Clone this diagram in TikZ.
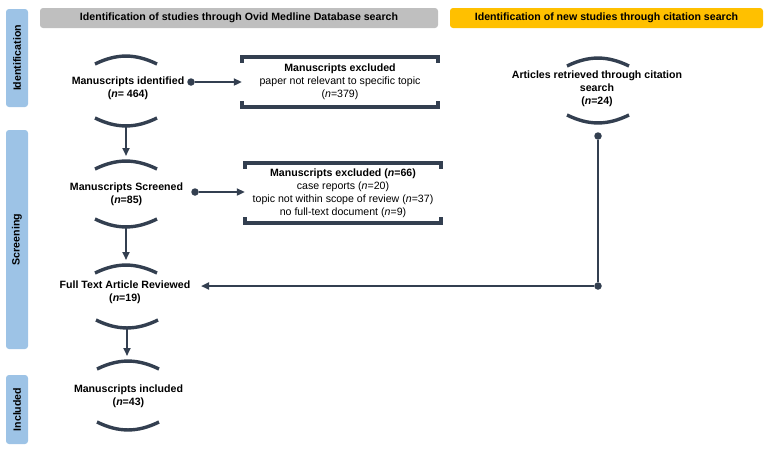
\documentclass[tikz,border=0pt]{standalone}
\usepackage{fontspec}
\setmainfont{Liberation Sans}
\usetikzlibrary{arrows.meta}
\definecolor{navy}{HTML}{333F50}
\definecolor{sidebar}{HTML}{9DC3E6}
\definecolor{hdrgray}{HTML}{BFBFBF}
\definecolor{hdryellow}{HTML}{FFC000}
% arcs above and below a stage
\newcommand{\toparc}[1]{\draw[bow] ([shift={(-31pt,-7pt)}]#1) to[bend left=26] ([shift={(31pt,-7pt)}]#1);}
\newcommand{\botarc}[1]{\draw[bow] ([shift={(-31pt,7pt)}]#1) to[bend right=26] ([shift={(31pt,7pt)}]#1);}
\begin{document}
\begin{tikzpicture}[x=1pt,y=-1pt,
  font=\fontsize{10.6}{13}\selectfont,
  bow/.style={navy, line width=3.4pt},
  bracket/.style={navy, line width=3.8pt},
  arr/.style={navy, line width=2pt, -{Triangle[length=8pt,width=7pt]}},
  link/.style={navy, line width=2pt},
  dot/.style={circle, fill=navy, inner sep=0pt, minimum size=7.5pt},
  stage/.style={align=center, font=\fontsize{10.6}{13}\selectfont\bfseries},
  exbox/.style={align=center, minimum width=196pt, minimum height=50pt, inner sep=0pt},
  header/.style={rounded corners=3pt, minimum height=20pt, inner sep=0pt, font=\fontsize{10.6}{13}\selectfont\bfseries},
  phase/.style={fill=sidebar, rounded corners=3pt, rotate=90, minimum height=22pt, inner sep=0pt, font=\fontsize{10.6}{13}\selectfont\bfseries}]
\useasboundingbox (0,0) rectangle (767,451);
% phases and headers
\node[phase, minimum width=98pt] (ph-id) at (17,58) {Identification};
\node[phase, minimum width=219pt] (ph-scr) at (17,239.5) {Screening};
\node[phase, minimum width=69pt] (ph-incl) at (17,409.5) {Included};
\node[header, fill=hdrgray, minimum width=398pt] (hd-db) at (239,18) {Identification of studies through Ovid Medline Database search};
\node[header, fill=hdryellow, minimum width=313pt] (hd-cit) at (606.5,18) {Identification of new studies through citation search};
% stages
\node[stage] (id) at (128,88.5) {Manuscripts identified\\(\textit{n}= 464)};
\coordinate (id-t) at (126,57);
\coordinate (id-b) at (126,125);
\node[stage] (scr) at (126.5,194) {Manuscripts Screened\\(\textit{n}=85)};
\coordinate (scr-t) at (126,162);
\coordinate (scr-b) at (126,226);
\node[stage] (full) at (125,292.5) {Full Text Article Reviewed\\(\textit{n}=19)};
\coordinate (full-t) at (126,266);
\coordinate (full-b) at (127,327);
\node[stage] (incl) at (128.5,396) {Manuscripts included\\(\textit{n}=43)};
\coordinate (incl-t) at (128,362);
\coordinate (incl-b) at (128,429);
\node[stage] (art) at (597,89) {Articles retrieved through citation\\search\\(\textit{n}=24)};
\coordinate (art-t) at (598,59);
\coordinate (art-b) at (598,122);
\foreach \s in {id,scr,full,incl,art} {\toparc{\s-t} \botarc{\s-b}}
% excluded
\node[exbox] (ex1) at (340,82) {\textbf{Manuscripts excluded}\\paper not relevant to specific topic\\(\textit{n}=379)};
\node[exbox, minimum height=60pt] (ex2) at (343,193) {\textbf{Manuscripts excluded (\textit{n}=66)}\\case reports (\textit{n}=20)\\topic not within scope of review (\textit{n}=37)\\no full-text document (\textit{n}=9)};
\foreach \b in {ex1,ex2} {
  \draw[bracket] ([yshift=-6pt]\b.north west) -- (\b.north west) -- (\b.north east) -- ([yshift=-6pt]\b.north east);
  \draw[bracket] ([yshift=6pt]\b.south west) -- (\b.south west) -- (\b.south east) -- ([yshift=6pt]\b.south east);
}
% connectors
\node[dot] (id-dot) at (191,82){};
\node[dot] (scr-dot) at (195,192){};
\node[dot] (art-dot) at (598,136){};
\node[dot] (art-turn) at (598,286){};
\coordinate (full-in) at (201,286);
\draw[arr] (id-dot) -- (ex1);
\draw[arr] (scr-dot) -- (scr-dot -| ex2.west);
\foreach \a/\b in {id/scr,scr/full,full/incl}
  \draw[arr, shorten >=6pt] (\a-b) -- (\a-b |- \b-t);
\draw[link] (art-dot) -- (art-turn);
\draw[arr] (art-turn) -- (full-in);
\end{tikzpicture}
\end{document}
